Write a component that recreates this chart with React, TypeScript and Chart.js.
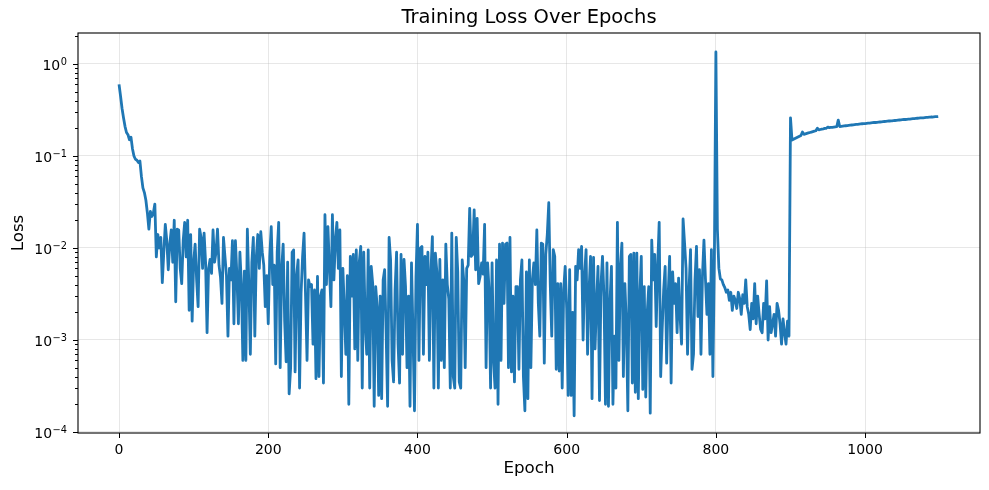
import React, { useEffect, useRef } from 'react';
import { Chart, registerables } from 'chart.js';

Chart.register(...registerables);

// ---- data, one value every EPOCH_STEP epochs ----
const EPOCH_STEP = 2;

// epochs 0 .. 58
const lossWarmup = [
  0.6, 0.45, 0.33, 0.26, 0.21, 0.18, 0.17, 0.15, 0.16, 0.12,
  0.1, 0.092, 0.09, 0.085, 0.088, 0.06, 0.045, 0.04, 0.033, 0.024,
  0.016, 0.025, 0.022, 0.024, 0.03, 0.008, 0.014, 0.01, 0.013, 0.0042,
];

// epochs 60 .. 498
const lossNoisyA = [
  0.009, 0.018, 0.012, 0.0058, 0.011, 0.0157, 0.007, 0.02, 0.0026, 0.016,
  0.0157, 0.006, 0.0041, 0.012, 0.019, 0.008, 0.02, 0.0021, 0.014, 0.0016,
  0.007, 0.011, 0.0045, 0.0023, 0.016, 0.013, 0.006, 0.0145, 0.007, 0.0012,
  0.006, 0.0075, 0.0053, 0.0157, 0.007, 0.009, 0.016, 0.0065, 0.0048, 0.0025,
  0.013, 0.008, 0.005, 0.0011, 0.006, 0.0045, 0.012, 0.0015, 0.012, 0.005,
  0.0015, 0.009, 0.004, 0.0006, 0.0056, 0.0006, 0.016, 0.004, 0.0007, 0.007,
  0.013, 0.0011, 0.008, 0.014, 0.006, 0.015, 0.009, 0.0065, 0.0023, 0.005,
  0.0015, 0.008, 0.017, 0.004, 0.0065, 0.00055, 0.009, 0.019, 0.0005, 0.006,
  0.011, 0.0016, 0.00058, 0.007, 0.00026, 0.0005, 0.009, 0.0095, 0.00045, 0.005,
  0.0074, 0.0003, 0.0032, 0.008, 0.0145, 0.003, 0.0006, 0.0045, 0.0038, 0.004,
  0.0009, 0.0035, 0.00038, 0.0049, 0.0004, 0.003, 0.0035, 0.00034, 0.023, 0.004,
  0.017, 0.006, 0.0023, 0.023, 0.0045, 0.012, 0.019, 0.006, 0.0157, 0.0004,
  0.006, 0.0022, 0.0007, 0.005, 0.0002, 0.0081, 0.003, 0.0085, 0.0008, 0.0095,
  0.0006, 0.007, 0.0104, 0.0003, 0.009, 0.0015, 0.0007, 0.0095, 0.0003, 0.0063,
  0.0041, 0.00019, 0.0038, 0.0023, 0.00025, 0.003, 0.00023, 0.0045, 0.0058, 0.0012,
  0.00019, 0.013, 0.0074, 0.0006, 0.00035, 0.0035, 0.009, 0.0009, 0.00034, 0.0085,
  0.0007, 0.0075, 0.0038, 0.0005, 0.003, 0.00019, 0.0069, 0.0012, 0.00017, 0.0048,
  0.018, 0.0006, 0.01, 0.0104, 0.0007, 0.0081, 0.004, 0.009, 0.0006, 0.0055,
  0.0133, 0.0003, 0.0088, 0.0055, 0.0003, 0.0075, 0.0006, 0.0045, 0.0005, 0.011,
  0.004, 0.0028, 0.0003, 0.0145, 0.0004, 0.0003, 0.013, 0.0055, 0.00035, 0.0003,
  0.0074, 0.0045, 0.0005, 0.006, 0.0065, 0.027, 0.0081, 0.0085, 0.026, 0.0058,
  0.021, 0.0041, 0.0049, 0.0069, 0.0052, 0.018, 0.0005, 0.0069, 0.0035, 0.0003,
];

// epochs 500 .. 798
const lossNoisyB = [
  0.0069, 0.0006, 0.0003, 0.0074, 0.0002, 0.011, 0.0006, 0.0113, 0.0025, 0.011,
  0.0113, 0.0005, 0.013, 0.00045, 0.003, 0.00035, 0.0038, 0.0038, 0.00048, 0.0045,
  0.0074, 0.0004, 0.00017, 0.0055, 0.00023, 0.0074, 0.0005, 0.0045, 0.0069, 0.004,
  0.0157, 0.0025, 0.0011, 0.0113, 0.011, 0.00056, 0.0085, 0.014, 0.031, 0.004,
  0.0011, 0.0096, 0.0081, 0.00048, 0.0041, 0.00046, 0.0041, 0.0003, 0.0035, 0.0063,
  0.0022, 0.00025, 0.0058, 0.00025, 0.002, 0.00015, 0.0063, 0.0045, 0.0096, 0.006,
  0.0104, 0.001, 0.005, 0.0096, 0.0007, 0.0035, 0.0081, 0.00023, 0.0079, 0.0008,
  0.0025, 0.0063, 0.00022, 0.004, 0.0081, 0.003, 0.0002, 0.0069, 0.00019, 0.0025,
  0.0063, 0.0002, 0.0011, 0.0003, 0.019, 0.0006, 0.006, 0.0113, 0.0004, 0.0041,
  0.0015, 0.00017, 0.0081, 0.0085, 0.00034, 0.0088, 0.00027, 0.0088, 0.00023, 0.003,
  0.0081, 0.00029, 0.0038, 0.00024, 0.002, 0.0038, 0.00016, 0.0122, 0.0045, 0.0085,
  0.0014, 0.0065, 0.019, 0.0004, 0.0013, 0.0035, 0.0063, 0.00056, 0.003, 0.0081,
  0.00034, 0.0055, 0.0025, 0.0041, 0.0012, 0.0047, 0.0018, 0.0009, 0.0207, 0.0113,
  0.006, 0.0007, 0.0035, 0.0096, 0.00048, 0.0007, 0.0045, 0.0104, 0.0018, 0.0058,
  0.0007, 0.005, 0.0122, 0.0046, 0.0019, 0.0041, 0.0007, 0.0096, 0.0004, 0.0081,
];

// epochs 800 .. 898
const lossSpikeSettle = [
  1.35, 0.016, 0.006, 0.0046, 0.0045, 0.004, 0.0037, 0.0033, 0.0035, 0.0027,
  0.0033, 0.0021, 0.003, 0.0027, 0.0022, 0.0033, 0.0028, 0.0019, 0.0031, 0.0025,
  0.0045, 0.0023, 0.0019, 0.0013, 0.0025, 0.0017, 0.0041, 0.0015, 0.003, 0.0019,
  0.0013, 0.0012, 0.0025, 0.0017, 0.0044, 0.001, 0.0023, 0.0012, 0.0015, 0.0019,
  0.0011, 0.0025, 0.0021, 0.0015, 0.0009, 0.0017, 0.0012, 0.0009, 0.0016, 0.0011,
];

// epochs 900 .. 1098
const lossDiverged = [
  0.26, 0.149, 0.152, 0.155, 0.158, 0.161, 0.164, 0.167, 0.182, 0.172,
  0.174, 0.176, 0.178, 0.18, 0.182, 0.184, 0.186, 0.188, 0.2, 0.192,
  0.194, 0.196, 0.197, 0.199, 0.2, 0.206, 0.203, 0.204, 0.205, 0.206,
  0.207, 0.208, 0.245, 0.209, 0.21, 0.211, 0.212, 0.213, 0.214, 0.215,
  0.216, 0.217, 0.218, 0.219, 0.22, 0.221, 0.222, 0.223, 0.224, 0.225,
  0.225, 0.226, 0.227, 0.228, 0.229, 0.23, 0.231, 0.231, 0.232, 0.233,
  0.234, 0.235, 0.236, 0.237, 0.238, 0.239, 0.24, 0.24, 0.241, 0.242,
  0.243, 0.244, 0.245, 0.246, 0.247, 0.248, 0.249, 0.249, 0.25, 0.251,
  0.252, 0.253, 0.254, 0.255, 0.256, 0.257, 0.258, 0.259, 0.259, 0.26,
  0.261, 0.262, 0.263, 0.264, 0.265, 0.265, 0.266, 0.267, 0.267, 0.268,
];

const xTickValues = [0, 200, 400, 600, 800, 1000];
const yMajorExponents = [-4, -3, -2, -1, 0];

const TITLE = 'Training Loss Over Epochs';
const X_LABEL = 'Epoch';
const Y_LABEL = 'Loss';

const loss = [...lossWarmup, ...lossNoisyA, ...lossNoisyB, ...lossSpikeSettle, ...lossDiverged];
const epochs = loss.map((_, i) => i * EPOCH_STEP);

const isMajor = (v: number) => {
  const l = Math.log10(v);
  return Math.abs(l - Math.round(l)) < 1e-9;
};

const FONT = "'DejaVu Sans', sans-serif";
const GRID = 'rgba(176,176,176,0.3)';

const framePlugin = {
  id: 'frame',
  afterDraw(chart: any) {
    const { ctx, chartArea: a, scales } = chart;
    ctx.save();
    ctx.strokeStyle = '#000';
    ctx.lineWidth = 1.1;
    ctx.strokeRect(a.left, a.top, a.right - a.left, a.bottom - a.top);
    ctx.lineWidth = 1;
    // x ticks
    for (const t of scales.x.ticks) {
      const px = Math.round(scales.x.getPixelForValue(t.value)) + 0.5;
      ctx.beginPath();
      ctx.moveTo(px, a.bottom);
      ctx.lineTo(px, a.bottom + 5);
      ctx.stroke();
    }
    // y ticks (major + minor)
    for (const t of scales.y.ticks) {
      const py = Math.round(scales.y.getPixelForValue(t.value)) + 0.5;
      const len = isMajor(t.value) ? 5 : 3;
      ctx.beginPath();
      ctx.moveTo(a.left - len, py);
      ctx.lineTo(a.left, py);
      ctx.stroke();
    }
    // y tick labels: 10 with a raised exponent
    ctx.fillStyle = '#000';
    ctx.textAlign = 'left';
    ctx.textBaseline = 'alphabetic';
    const right = a.left - 11;
    for (const e of yMajorExponents) {
      const py = scales.y.getPixelForValue(Math.pow(10, e));
      const expText = e < 0 ? '\u2212' + String(-e) : String(e);
      ctx.font = `9.8px ${FONT}`;
      const w2 = ctx.measureText(expText).width;
      ctx.font = `14px ${FONT}`;
      const w1 = ctx.measureText('10').width;
      ctx.fillText('10', right - w2 - w1 - 0.5, py + 6.5);
      ctx.font = `9.8px ${FONT}`;
      ctx.fillText(expText, right - w2, py + 1);
    }
    // title
    ctx.font = `19.5px ${FONT}`;
    ctx.textAlign = 'center';
    ctx.textBaseline = 'middle';
    ctx.fillText(TITLE, (a.left + a.right) / 2, 18);
    ctx.restore();
  },
};

export default function App() {
  const ref = useRef<HTMLCanvasElement>(null);

  useEffect(() => {
    if (!ref.current) return;
    const yTicks: number[] = [];
    for (let e = -5; e <= 0; e++) {
      for (let m = 1; m <= 9; m++) {
        const v = m * Math.pow(10, e);
        if (v >= 9.75e-5 && v <= 2.17) yTicks.push(v);
      }
    }
    const chart = new Chart(ref.current, {
      type: 'line',
      data: {
        datasets: [
          {
            label: Y_LABEL,
            data: epochs.map((x, i) => ({ x, y: loss[i] })),
            borderColor: '#1f77b4',
            backgroundColor: '#1f77b4',
            borderWidth: 2.8,
            pointRadius: 0,
            tension: 0,
            borderJoinStyle: 'round',
            fill: false,
          },
        ],
      },
      options: {
        responsive: false,
        animation: false,
        devicePixelRatio: 1,
        layout: { padding: { top: 33, right: 9, left: 0, bottom: 0 } },
        plugins: {
          legend: { display: false },
          title: { display: false },
          tooltip: { enabled: false },
        },
        scales: {
          x: {
            type: 'linear',
            min: -55,
            max: 1154,
            bounds: 'data',
            afterBuildTicks: (s: any) => {
              s.ticks = xTickValues.map((v) => ({ value: v }));
            },
            afterFit: (s: any) => {
              s.height = 57;
            },
            grid: { color: GRID, lineWidth: 1, drawTicks: true, tickLength: 5, tickColor: 'transparent' },
            border: { display: false },
            ticks: {
              autoSkip: false,
              maxRotation: 0,
              padding: 4,
              color: '#000',
              font: { family: FONT, size: 14 },
              callback: (v: any) => String(v),
            },
            title: {
              display: true,
              text: X_LABEL,
              color: '#000',
              font: { family: FONT, size: 16.7 },
              padding: { top: 0, bottom: 11 },
            },
          },
          y: {
            type: 'logarithmic',
            min: 9.75e-5,
            max: 2.17,
            bounds: 'data',
            afterBuildTicks: (s: any) => {
              s.ticks = yTicks.map((v) => ({ value: v }));
            },
            afterFit: (s: any) => {
              s.width = 78;
            },
            grid: {
              color: (c: any) => (c.tick && isMajor(c.tick.value) ? GRID : 'transparent'),
              lineWidth: 1,
              drawTicks: true,
              tickLength: 5,
              tickColor: 'transparent',
            },
            border: { display: false },
            ticks: {
              autoSkip: false,
              padding: 5,
              color: '#000',
              font: { family: FONT, size: 14 },
              callback: () => '',
            },
            title: {
              display: true,
              text: Y_LABEL,
              color: '#000',
              font: { family: FONT, size: 16.7 },
              padding: { top: 9, bottom: 0 },
            },
          },
        },
      },
      plugins: [framePlugin],
    } as any);
    return () => chart.destroy();
  }, []);

  return (
    <div style={{ position: 'absolute', left: 0, top: 0, width: 989, height: 490, background: '#fff' }}>
      <canvas ref={ref} width={989} height={490} style={{ display: 'block', width: 989, height: 490 }} />
    </div>
  );
}
